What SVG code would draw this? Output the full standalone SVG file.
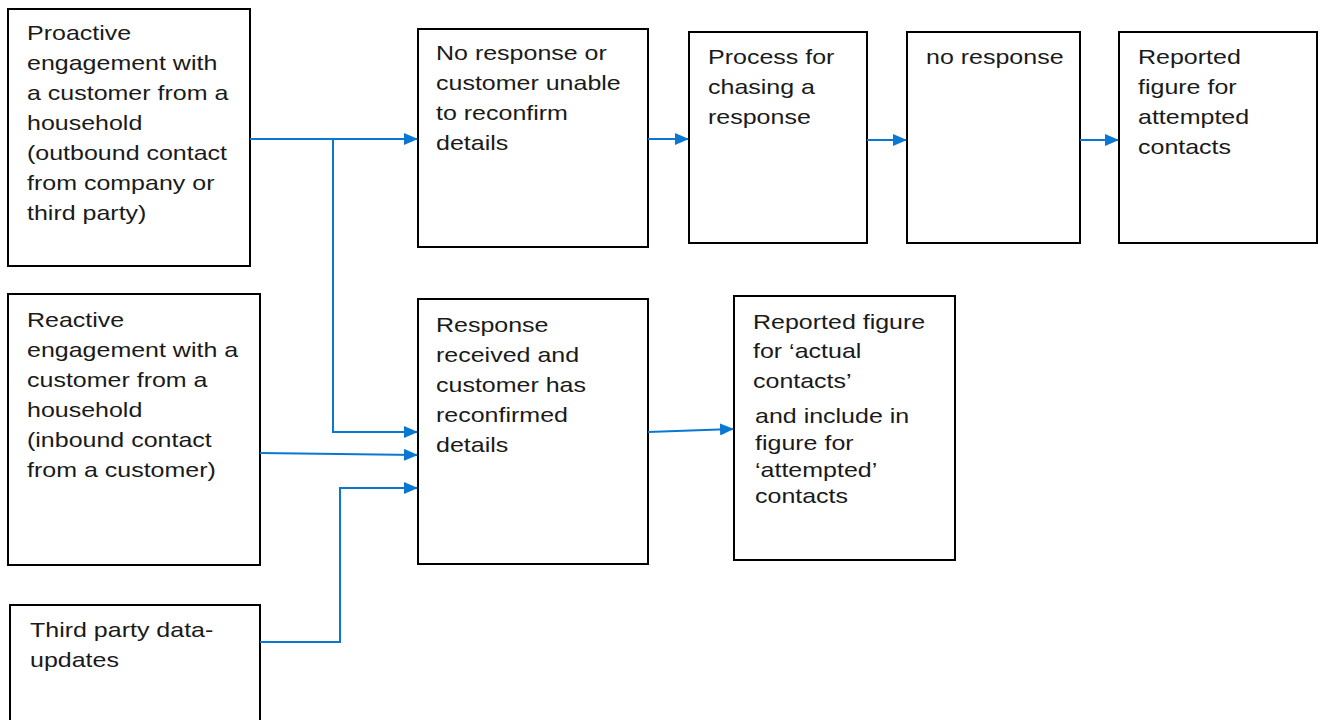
<svg xmlns="http://www.w3.org/2000/svg" width="1327" height="720" viewBox="0 0 1327 720">
<style>
.box{fill:#fff;stroke:#000;stroke-width:2}
.t{font-family:"Liberation Sans",Arial,sans-serif;font-size:21px;fill:#1a1a1a}
.c{fill:none;stroke:#0a78d2;stroke-width:2}
</style>
<defs>
<marker id="ah" markerWidth="14" markerHeight="12" refX="13" refY="6" orient="auto" markerUnits="userSpaceOnUse">
<path d="M0,0 L14,6 L0,12 Z" fill="#0a78d2"/>
</marker>
</defs>
<rect width="1327" height="720" fill="#fff"/>
<g id="n1"><rect class="box" x="8" y="9" width="242" height="257"/>
<text class="t" transform="translate(27,40) scale(1.19,1)"><tspan x="0" y="0">Proactive</tspan><tspan x="0" y="30">engagement with</tspan><tspan x="0" y="60">a customer from a</tspan><tspan x="0" y="90">household</tspan><tspan x="0" y="120">(outbound contact</tspan><tspan x="0" y="150">from company or</tspan><tspan x="0" y="180">third party)</tspan></text></g>
<g id="n2"><rect class="box" x="8" y="294" width="252" height="271"/>
<text class="t" transform="translate(27,327) scale(1.19,1)"><tspan x="0" y="0">Reactive</tspan><tspan x="0" y="30">engagement with a</tspan><tspan x="0" y="60">customer from a</tspan><tspan x="0" y="90">household</tspan><tspan x="0" y="120">(inbound contact</tspan><tspan x="0" y="150">from a customer)</tspan></text></g>
<g id="n3"><rect class="box" x="10" y="605" width="250" height="125"/>
<text class="t" transform="translate(30,637) scale(1.19,1)"><tspan x="0" y="0">Third party data-</tspan><tspan x="0" y="30">updates</tspan></text></g>
<g id="n4"><rect class="box" x="418" y="29" width="230" height="218"/>
<text class="t" transform="translate(436,60) scale(1.19,1)"><tspan x="0" y="0">No response or</tspan><tspan x="0" y="30">customer unable</tspan><tspan x="0" y="60">to reconfirm</tspan><tspan x="0" y="90">details</tspan></text></g>
<g id="n5"><rect class="box" x="689" y="32" width="178" height="211"/>
<text class="t" transform="translate(708,64) scale(1.19,1)"><tspan x="0" y="0">Process for</tspan><tspan x="0" y="30">chasing a</tspan><tspan x="0" y="60">response</tspan></text></g>
<g id="n6"><rect class="box" x="907" y="32" width="173" height="211"/>
<text class="t" transform="translate(926,64) scale(1.19,1)"><tspan x="0" y="0">no response</tspan></text></g>
<g id="n7"><rect class="box" x="1119" y="32" width="198" height="211"/>
<text class="t" transform="translate(1138,64) scale(1.19,1)"><tspan x="0" y="0">Reported</tspan><tspan x="0" y="30">figure for</tspan><tspan x="0" y="60">attempted</tspan><tspan x="0" y="90">contacts</tspan></text></g>
<g id="n8"><rect class="box" x="418" y="299" width="230" height="265"/>
<text class="t" transform="translate(436,332) scale(1.19,1)"><tspan x="0" y="0">Response</tspan><tspan x="0" y="30">received and</tspan><tspan x="0" y="60">customer has</tspan><tspan x="0" y="90">reconfirmed</tspan><tspan x="0" y="120">details</tspan></text></g>
<g id="n9"><rect class="box" x="734" y="296" width="221" height="264"/>
<text class="t" transform="translate(753,329) scale(1.19,1)"><tspan x="0" y="0">Reported figure</tspan><tspan x="0" y="29">for ‘actual</tspan><tspan x="0" y="59">contacts’</tspan></text>
<text class="t" transform="translate(755,423) scale(1.19,1)"><tspan x="0" y="0">and include in</tspan><tspan x="0" y="27">figure for</tspan><tspan x="0" y="54">‘attempted’</tspan><tspan x="0" y="80">contacts</tspan></text></g>
<g id="connectors">
<path class="c" d="M250,139 L417,139" marker-end="url(#ah)"/>
<path class="c" d="M333,139 L333,432 L417,432" marker-end="url(#ah)"/>
<path class="c" d="M260,453 L417,455" marker-end="url(#ah)"/>
<path class="c" d="M260,642 L340,642 L340,488 L417,488" marker-end="url(#ah)"/>
<path class="c" d="M648,139 L688,139" marker-end="url(#ah)"/>
<path class="c" d="M867,140 L906,140" marker-end="url(#ah)"/>
<path class="c" d="M1080,140 L1118,140" marker-end="url(#ah)"/>
<path class="c" d="M648,432 L733,429" marker-end="url(#ah)"/>
</g>
</svg>
